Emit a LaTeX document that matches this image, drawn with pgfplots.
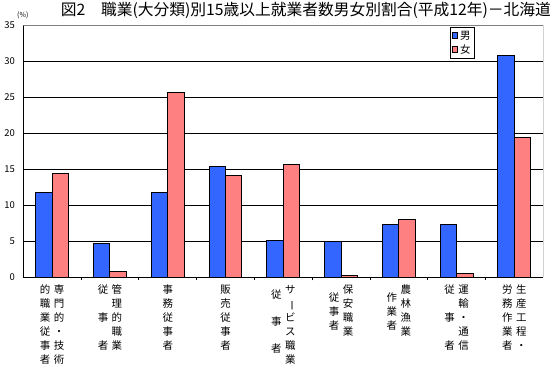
\documentclass[border=0pt]{standalone}
\usepackage{fontspec}
\setmainfont{Noto Sans CJK JP}
\usepackage{pgfplots}
\pgfplotsset{compat=1.18}
\definecolor{mblue}{RGB}{51,102,255}
\definecolor{fpink}{RGB}{255,128,128}
\newcommand{\vc}[1]{\begin{tabular}[t]{@{}c@{}}#1\end{tabular}}
\newcommand{\cg}{\hspace{3.5bp}}
\newcommand{\labA}{\vc{的\\職\\業\\従\\事\\者}\cg\vc{専\\門\\的\\・\\技\\術}}
\newcommand{\labB}{\vc{従\\ \\事\\ \\者}\cg\vc{管\\理\\的\\職\\業}}
\newcommand{\labC}{\vc{事\\務\\従\\事\\者}}
\newcommand{\labD}{\vc{販\\売\\従\\事\\者}}
\newcommand{\labE}{\raisebox{-5bp}{\vc{従\\[13bp]事\\[13bp]者}}\cg\vc{サ\\\rotatebox[origin=c]{-90}{ー}\\ビ\\ス\\職\\業}}
\newcommand{\labF}{\raisebox{-8bp}{\vc{従\\事\\者}}\cg\vc{保\\安\\職\\業}}
\newcommand{\labG}{\raisebox{-8bp}{\vc{作\\業\\者}}\cg\vc{農\\林\\漁\\業}}
\newcommand{\labH}{\vc{従\\ \\事\\ \\者}\cg\vc{運\\輸\\・\\通\\信}}
\newcommand{\labI}{\vc{労\\務\\作\\業\\者}\cg\vc{生\\産\\工\\程\\・}}
\begin{document}
\begin{tikzpicture}
\useasboundingbox (-23.3bp,-87.7bp) rectangle (527.7bp,277.3bp);
\begin{axis}[
  scale only axis, width=520bp, height=252.3bp,
  ymin=0, ymax=35, ytick={0,5,...,35},
  xmin=-0.5, xmax=8.5,
  xtick={0,...,8},
  xticklabels={\labA,\labB,\labC,\labD,\labE,\labF,\labG,\labH,\labI},
  minor xtick={0.5,1.5,...,7.5},
  axis x line*=bottom, axis y line*=left,
  axis line style={black, line width=0.9bp},
  ymajorgrids, grid style={black, line width=0.75bp},
  major tick length=0pt, minor tick length=3bp, tick align=inside,
  tick style={black, line width=0.75bp},
  ybar=0pt, bar width=0.285,
  /pgf/number format/assume math mode=true,
  yticklabel style={font=\fontsize{9.5}{10}\selectfont, xshift=-5bp},
  xticklabel style={font=\fontsize{10.5}{14}\selectfont, anchor=north, yshift=-3bp},
  legend style={at={(rel axis cs:0.8206,0.992)}, anchor=north west, draw=black, line width=0.75bp,
    font=\fontsize{10.5}{12}\selectfont, inner sep=1.5bp, row sep=0bp},
  legend cell align=left,
]
\addplot[fill=mblue, draw=black, line width=1bp,
  legend image code/.code={\draw[fill=mblue, draw=black, line width=0.75bp] (0bp,-2.5bp) rectangle (5.5bp,3bp);}]
  coordinates {(0,11.8) (1,4.7) (2,11.8) (3,15.4) (4,5.1) (5,4.9) (6,7.3) (7,7.3) (8,30.8)};
\addplot[fill=fpink, draw=black, line width=1bp,
  legend image code/.code={\draw[fill=fpink, draw=black, line width=0.75bp] (0bp,-2.5bp) rectangle (5.5bp,3bp);}]
  coordinates {(0,14.4) (1,0.8) (2,25.6) (3,14.1) (4,15.6) (5,0.3) (6,8.0) (7,0.5) (8,19.4)};
\legend{男,女}
\draw[gray, line width=0.9bp] (rel axis cs:0,1) -- (rel axis cs:1,1) -- (rel axis cs:1,0);
\end{axis}
\node[font=\fontsize{7}{8}\selectfont, inner sep=0pt] at (-0.5bp,262.3bp) {(\%)};
\node[anchor=east, inner sep=0pt, font=\fontsize{15.8}{18}\selectfont] at (527.7bp,267.3bp) {図2　職業(大分類)別15歳以上就業者数男女別割合(平成12年)－北海道};
\end{tikzpicture}
\end{document}
